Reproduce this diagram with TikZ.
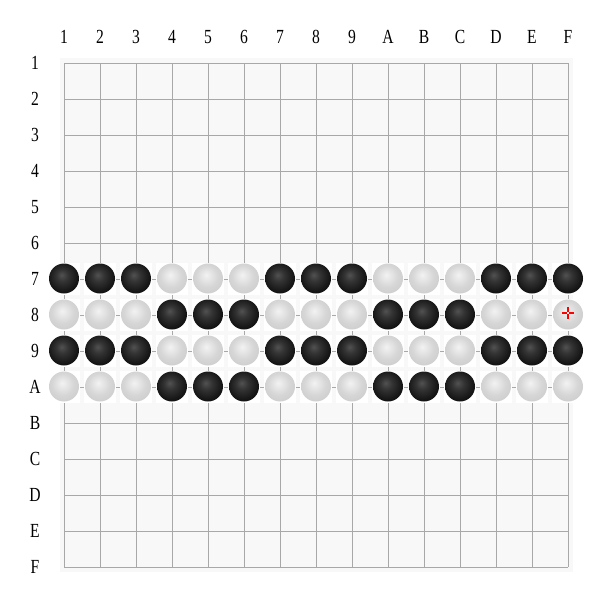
\documentclass[tikz,border=0pt]{standalone}
\usepackage{fontspec}
\setmainfont{Liberation Serif}[FakeStretch=0.78]
\usepackage{xcolor}
\usetikzlibrary{positioning}

\definecolor{boardbg}{HTML}{F8F8F8}
\definecolor{gridline}{HTML}{A8A8A8}
\pgfdeclareradialshading{blackstone}{\pgfpoint{-4bp}{6bp}}{%
  color(0bp)=(black!68); color(10bp)=(black!80); color(25bp)=(black!92); color(50bp)=(black!99)}
\pgfdeclareradialshading{whitestone}{\pgfpoint{-3bp}{6bp}}{%
  color(0bp)=(white!95!black); color(18bp)=(white!84!black); color(38bp)=(white!78!black); color(50bp)=(white!74!black)}

\begin{document}
\begin{tikzpicture}[
    x=1pt, y=-1pt,
    every node/.style={font=\fontsize{20}{22}\selectfont, inner sep=0pt},
    lbl/.style={anchor=center},
    stonebg/.style={fill=white, draw=none, minimum size=32pt, inner sep=0pt, rectangle},
    bstone/.style={circle, minimum size=30pt, inner sep=0pt, shading=blackstone},
    wstone/.style={circle, minimum size=30pt, inner sep=0pt, shading=whitestone},
    gridln/.style={gridline, line width=0.9pt},
    lastmark/.style={red, line width=2.6pt},
]
    \useasboundingbox (0,0) rectangle (590,590);
    % board
    \fill[boardbg] (60,58) rectangle (573,572);
    \foreach \i in {0,...,14} {
        \draw[gridln] (64+36*\i,63) -- (64+36*\i,567);
        \draw[gridln] (64,63+36*\i) -- (568,63+36*\i);
    }
    % labels
    \foreach \t [count=\i from 0] in {1,2,3,4,5,6,7,8,9,A,B,C,D,E,F} {
        \node[lbl] (col\t) at (64+36*\i,37) {\t};
        \node[lbl] (row\t) at (35,63+36*\i) {\t};
    }
    % stones, rows 7..A
    \foreach \r/\odd in {6/1,7/0,8/1,9/0} {
        \foreach \c in {0,...,14} {
            \pgfmathtruncatemacro{\grp}{mod(floor(\c/3)+\odd,2)}
            \node[stonebg] (bg-\r-\c) at (64+36*\c,63+36*\r) {};
            \ifnum\grp=1
                \node[bstone] (s-\r-\c) at (64+36*\c,62.5+36*\r) {};
            \else
                \node[wstone] (s-\r-\c) at (64+36*\c,62.5+36*\r) {};
            \fi
        }
    }
    % last move
    \coordinate (last) at ([yshift=1.5pt]s-7-14.center);
    \draw[lastmark] ([xshift=-6pt]last) -- ([xshift=-1.3pt]last);
    \draw[lastmark] ([xshift=6pt]last) -- ([xshift=1.3pt]last);
    \draw[lastmark] ([yshift=6pt]last) -- ([yshift=1.3pt]last);
    \draw[lastmark] ([yshift=-6pt]last) -- ([yshift=-1.3pt]last);
\end{tikzpicture}
\end{document}
